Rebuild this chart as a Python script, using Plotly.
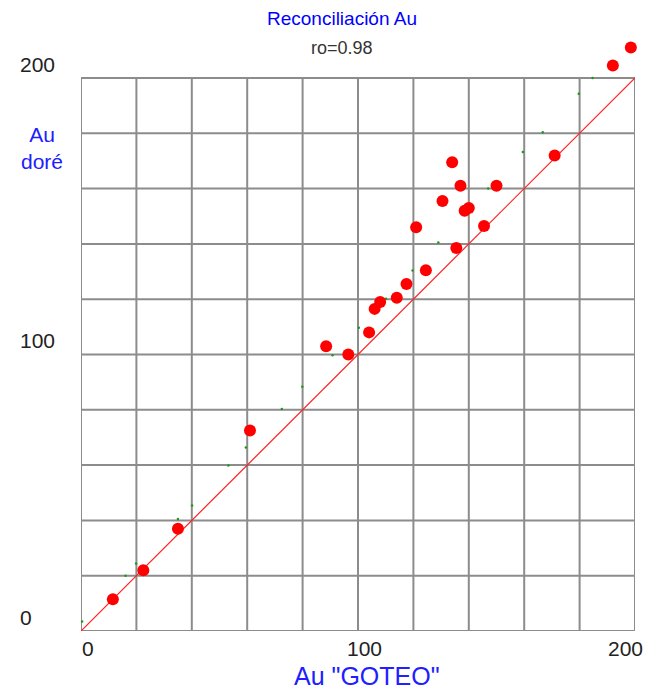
import plotly.graph_objects as go

# ---- data ----
goteo = [11.5, 22.5, 35, 61, 88.5, 96.5, 104, 106, 108, 114, 117.5, 124.5, 121,
         135.5, 130.5, 134, 137, 138.5, 140, 145.5, 150, 171, 192, 198.5]
dore = [11.5, 22, 37, 72.5, 103, 100, 108, 116.5, 119, 120.5, 125.5, 130.5, 146,
        138.5, 155.5, 169.5, 161, 152, 153, 146.5, 161, 172, 204.5, 211]

band_x = [0.4, 16.1, 19.9, 35, 40.1, 53.2, 59.5, 72.5, 79.9, 90.8, 100.3, 110.1,
          119.7, 129, 147, 159.5, 166.7, 179.7, 184.7]
band_y = [3.4, 20, 24.4, 40.5, 45.4, 59.9, 66.4, 80.3, 88.3, 99.7, 109.7, 120.2,
          130.4, 140.5, 160, 173.2, 180.4, 194.3, 200]

ref_x = [0, 200]
ref_y = [0, 200]

axis_min, axis_max, grid_step = 0, 200, 20
tick_vals = [0, 100, 200]
tick_text = ["0", "100", "200"]

title_text = "Reconciliación Au"
subtitle_text = "ro=0.98"
x_title = 'Au "GOTEO"'
y_title = "Au<br>doré"

FONT = "Liberation Sans, Arial, sans-serif"
GRID = "#8c8c8c"
W, H = 660, 692
ML, MR, MT, MB = 81, 25, 30, 61
GRID_TOP_PX = 78          # pixel row of the 200 grid line
PLOT_BOTTOM_PX = H - MB   # pixel row of the 0 grid line

# y range extended above 200 (same scale as x) so the points above 200 show
y_max = axis_max * (PLOT_BOTTOM_PX - MT) / (PLOT_BOTTOM_PX - GRID_TOP_PX)


def px_x(p):
    return (p - ML) / (W - ML - MR)


def px_y(p):
    return (H - MB - p) / (H - MT - MB)


fig = go.Figure()
fig.add_trace(go.Scatter(x=band_x, y=band_y, mode="markers",
                         marker=dict(color="#1a9a1a", size=2.5, line=dict(width=0)),
                         hoverinfo="skip", showlegend=False, cliponaxis=False))
fig.add_trace(go.Scatter(x=ref_x, y=ref_y, mode="lines",
                         line=dict(color="#ff2020", width=1.2),
                         showlegend=False, cliponaxis=False))
fig.add_trace(go.Scatter(x=goteo, y=dore, mode="markers",
                         marker=dict(color="#ff0000", size=12, line=dict(width=0)),
                         showlegend=False, cliponaxis=False))

hidden_axis = dict(showgrid=False, showline=False, zeroline=False,
                   showticklabels=False, ticks="", fixedrange=True)
fig.update_xaxes(range=[axis_min, axis_max], **hidden_axis)
fig.update_yaxes(range=[axis_min, y_max], **hidden_axis)

# grid + frame limited to the 0..200 square
shapes = []
for g in range(axis_min, axis_max + 1, grid_step):
    shapes.append(dict(type="line", xref="x", yref="y", x0=g, x1=g,
                       y0=axis_min, y1=axis_max, layer="below",
                       line=dict(color=GRID, width=2)))
    shapes.append(dict(type="line", xref="x", yref="y", x0=axis_min, x1=axis_max,
                       y0=g, y1=g, layer="below",
                       line=dict(color=GRID, width=2)))

tick_font = dict(family=FONT, size=21, color="#222222")
ann = []
x_lab_px = [88, 364, 625]
for v, t, p in zip(tick_vals, tick_text, x_lab_px):
    ann.append(dict(x=px_x(p), y=px_y(648), xref="paper", yref="paper", text=t,
                    showarrow=False, xanchor="center", yanchor="middle", font=tick_font))
for v, t in zip(tick_vals, tick_text):
    ann.append(dict(x=px_x(18), y=v, xref="paper", yref="y", text=t, showarrow=False,
                    xanchor="left", yanchor="middle", yshift=14, font=tick_font))

ann.append(dict(x=px_x(342), y=px_y(18), xref="paper", yref="paper",
                text=title_text, showarrow=False, xanchor="center", yanchor="middle",
                font=dict(family=FONT, size=19, color="#0000ff")))
ann.append(dict(x=px_x(342), y=px_y(48), xref="paper", yref="paper",
                text=subtitle_text, showarrow=False, xanchor="center", yanchor="middle",
                font=dict(family=FONT, size=18, color="#333333")))
ann.append(dict(x=px_x(367), y=px_y(676), xref="paper", yref="paper",
                text=x_title, showarrow=False, xanchor="center", yanchor="middle",
                font=dict(family=FONT, size=25, color="#2020ff")))
ann.append(dict(x=px_x(42), y=px_y(148), xref="paper", yref="paper",
                text=y_title, showarrow=False, xanchor="center", yanchor="middle",
                align="center",
                font=dict(family=FONT, size=21, color="#2020ff")))

fig.update_layout(
    width=W, height=H,
    margin=dict(l=ML, r=MR, t=MT, b=MB),
    paper_bgcolor="white", plot_bgcolor="white",
    showlegend=False,
    shapes=shapes,
    annotations=ann,
)

fig.write_html("out.html", config={"displayModeBar": False},
               post_script="document.body.style.margin='0';document.body.style.padding='0';")
